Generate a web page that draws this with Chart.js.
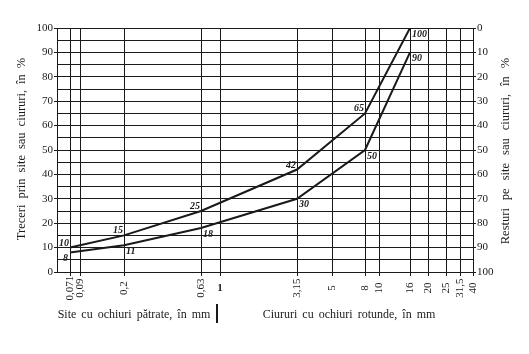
<!DOCTYPE html>
<html>
<head>
<meta charset="utf-8">
<script src="https://cdn.jsdelivr.net/npm/chart.js@4.4.0/dist/chart.umd.min.js"></script>
<style>
    html, body { margin: 0; padding: 0; background: #fff; }
    #wrap { width: 529px; height: 354px; }
</style>
</head>
<body>
<div id="wrap"><canvas id="grading"></canvas></div>
<script>
// Sieve sizes printed along the bottom, in mm
const sieveSizes = [0.071, 0.09, 0.2, 0.63, 1, 3.15, 5, 8, 10, 16, 20, 25, 31.5, 40];
const sieveLabels = ['0,071', '0,09', '0,2', '0,63', '1', '3,15', '5', '8', '10', '16', '20', '25', '31,5', '40'];
// The printed sheet uses its own non-uniform sieve scale (0 .. 416 along the axis)
const sieveAxis = [13, 23, 67, 144, 163, 240, 275, 308, 322, 353, 371, 389, 403, 416];

// Grading limits: % passing at each sieve
const curveSizes = [0.071, 0.2, 0.63, 3.15, 8, 16];
const upperPassing = [10, 15, 25, 42, 65, 100];
const lowerPassing = [8, 11, 18, 30, 50, 90];

const gridSteps = [0, 5, 10, 15, 20, 25, 30, 35, 40, 45, 50, 55, 60, 65, 70, 75, 80, 85, 90, 95, 100];

const ink = '#1a1a1a';
const serif = "'Liberation Serif', 'DejaVu Serif', serif";

// label placement next to each point: la = left/above, rb = right/below, lb = left/below
const upperPlace = ['la', 'la', 'la', 'la', 'la', 'rb'];
const lowerPlace = ['lb', 'rb', 'rb', 'rb', 'rb', 'rb'];

function axisPos(size) {
    return sieveAxis[sieveSizes.indexOf(size)];
}

function toPoints(values) {
    return curveSizes.map((s, i) => ({ x: axisPos(s), y: values[i] }));
}

function drawSpaced(ctx, text, x, y, gap) {
    // draw words with a wider gap, centred on x
    const words = text.split(' ');
    const widths = words.map(w => ctx.measureText(w).width);
    const total = widths.reduce((a, b) => a + b, 0) + gap * (words.length - 1);
    let cx = x - total / 2;
    ctx.textAlign = 'left';
    words.forEach((w, i) => {
        ctx.fillText(w, cx, y);
        cx += widths[i] + gap;
    });
}

const sheetText = {
    id: 'sheetText',
    afterDraw(chart) {
        const ctx = chart.ctx;
        const xs = chart.scales.x;
        ctx.save();
        ctx.fillStyle = ink;

        // sieve labels under the grid
        sieveSizes.forEach((s, i) => {
            const px = xs.getPixelForValue(sieveAxis[i]);
            ctx.save();
            ctx.textAlign = 'center';
            ctx.textBaseline = 'middle';
            if (sieveLabels[i] === '1') {
                ctx.font = 'bold 11px ' + serif;
                ctx.fillText(sieveLabels[i], px, 288);
            } else {
                ctx.font = '11px ' + serif;
                ctx.translate(px, 288);
                ctx.rotate(-Math.PI / 2);
                ctx.fillText(sieveLabels[i], 0, 0);
            }
            ctx.restore();
        });

        // value labels on the two curves
        ctx.font = 'italic bold 10px ' + serif;
        [[0, upperPassing, upperPlace], [1, lowerPassing, lowerPlace]].forEach(([di, vals, place]) => {
            const meta = chart.getDatasetMeta(di);
            meta.data.forEach((pt, i) => {
                const p = place[i];
                if (p === 'la') {
                    ctx.textAlign = 'right';
                    ctx.textBaseline = 'alphabetic';
                    ctx.fillText(vals[i], pt.x - 1, pt.y - 2);
                } else if (p === 'lb') {
                    ctx.textAlign = 'right';
                    ctx.textBaseline = 'top';
                    ctx.fillText(vals[i], pt.x - 2, pt.y + 1);
                } else {
                    ctx.textAlign = 'left';
                    ctx.textBaseline = 'top';
                    ctx.fillText(vals[i], pt.x + 2, pt.y + 1);
                }
            });
        });

        // captions under the axis
        ctx.font = '12px ' + serif;
        ctx.textBaseline = 'middle';
        drawSpaced(ctx, 'Site cu ochiuri pătrate, în mm', 134, 315, 5);
        drawSpaced(ctx, 'Ciururi cu ochiuri rotunde, în mm', 349, 315, 5);
        ctx.fillRect(216, 304, 2, 19);

        // side titles, both read bottom to top
        ctx.font = '12.5px ' + serif;
        ctx.save();
        ctx.translate(22, 149);
        ctx.rotate(-Math.PI / 2);
        drawSpaced(ctx, 'Treceri prin site sau ciururi, în %', 0, 0, 6);
        ctx.restore();
        ctx.save();
        ctx.translate(506, 151);
        ctx.rotate(-Math.PI / 2);
        drawSpaced(ctx, 'Resturi pe site sau ciururi, în %', 0, 0, 8);
        ctx.restore();

        ctx.restore();
    }
};

const tickFont = { family: serif, size: 11 };
const tenOnly = c => (c.tick && c.tick.value % 10 === 0) ? ink : 'rgba(0,0,0,0)';

new Chart(document.getElementById('grading'), {
    type: 'line',
    data: {
        datasets: [
            {
                data: toPoints(upperPassing),
                borderColor: ink,
                borderWidth: 2,
                pointRadius: 0,
                tension: 0,
            },
            {
                data: toPoints(lowerPassing),
                borderColor: ink,
                borderWidth: 2,
                pointRadius: 0,
                tension: 0,
            }
        ]
    },
    options: {
        responsive: true,
        maintainAspectRatio: false,
        animation: false,
        layout: { padding: { top: 28, left: 0, right: 0, bottom: 0 } },
        plugins: {
            legend: { display: false },
            tooltip: { enabled: false },
        },
        scales: {
            x: {
                type: 'linear',
                min: 0,
                max: 416,
                afterBuildTicks: s => { s.ticks = sieveAxis.map(v => ({ value: v })); },
                afterFit: s => { s.height = 82; },
                ticks: { display: false, autoSkip: false },
                grid: { color: ink, lineWidth: 1, tickLength: 4, tickColor: ink },
                border: { display: false },
            },
            y: {
                type: 'linear',
                position: 'left',
                min: 0,
                max: 100,
                afterBuildTicks: s => { s.ticks = gridSteps.map(v => ({ value: v })); },
                afterFit: s => { s.width = 57; },
                ticks: {
                    autoSkip: false,
                    padding: 1,
                    color: ink,
                    font: tickFont,
                    callback: v => v % 10 === 0 ? v : '',
                },
                grid: { color: ink, lineWidth: 1, tickLength: 3, tickColor: tenOnly },
                border: { color: ink },
            },
            yRight: {
                type: 'linear',
                position: 'right',
                reverse: true,
                min: 0,
                max: 100,
                afterBuildTicks: s => { s.ticks = gridSteps.map(v => ({ value: v })); },
                afterFit: s => { s.width = 56; },
                ticks: {
                    autoSkip: false,
                    padding: 1,
                    color: ink,
                    font: tickFont,
                    callback: v => v % 10 === 0 ? v : '',
                },
                grid: { drawOnChartArea: false, tickLength: 3, tickColor: tenOnly },
                border: { color: ink },
            }
        }
    },
    plugins: [sheetText]
});
</script>
</body>
</html>
